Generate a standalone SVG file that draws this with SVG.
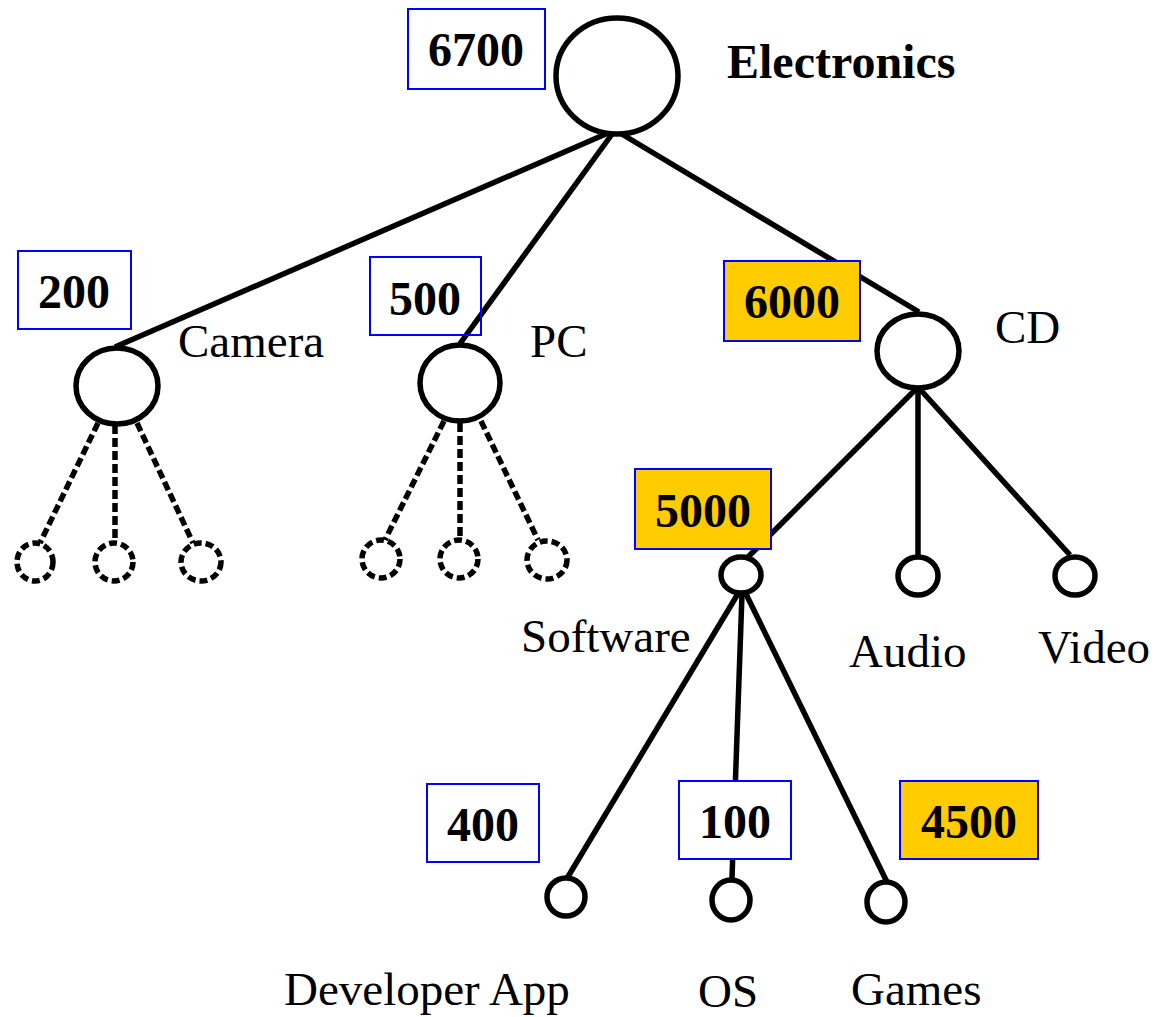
<svg xmlns="http://www.w3.org/2000/svg" width="1158" height="1017" viewBox="0 0 1158 1017">
<style>
.ln{stroke:#000;stroke-width:5.5;fill:none;stroke-linecap:butt}
.dl{stroke:#000;stroke-width:5.5;fill:none;stroke-dasharray:9 4}
.nd{stroke:#000;stroke-width:5.5;fill:#fff}
.dn{stroke:#000;stroke-width:5.5;fill:#fff;stroke-dasharray:8 4}
.bx{stroke:#0000FF;stroke-width:2;fill:#fff}
.bn{stroke:#0000FF;stroke-width:2;fill:none}
.bg{stroke:#0000FF;stroke-width:2;fill:#FFCC00}
.num{font-family:"Liberation Serif","Times New Roman",serif;font-weight:bold;font-size:48px;fill:#000;text-anchor:middle}
.lb{font-family:"Liberation Serif","Times New Roman",serif;font-size:47px;fill:#000}
.lbb{font-family:"Liberation Serif","Times New Roman",serif;font-size:48px;font-weight:bold;fill:#000}
</style>
<rect width="1158" height="1017" fill="#fff"/>
<g id="connectors">
<line class="ln" x1="615" y1="130" x2="115" y2="347"/>
<line class="ln" x1="615" y1="130" x2="459" y2="345"/>
<line class="ln" x1="615" y1="130" x2="919" y2="312"/>
<line class="dl" x1="98" y1="423" x2="40" y2="543"/>
<line class="dl" x1="115" y1="425" x2="115" y2="541"/>
<line class="dl" x1="137" y1="423" x2="193" y2="543"/>
<line class="dl" x1="444" y1="421" x2="385" y2="540"/>
<line class="dl" x1="460" y1="423" x2="460" y2="540"/>
<line class="dl" x1="481" y1="421" x2="538" y2="540"/>
<line class="ln" x1="918" y1="387" x2="743" y2="562"/>
<line class="ln" x1="918" y1="387" x2="918" y2="557"/>
<line class="ln" x1="918" y1="387" x2="1070" y2="555"/>
<line class="ln" x1="739" y1="592" x2="566" y2="880"/>
<line class="ln" x1="742" y1="594" x2="732" y2="878"/>
<line class="ln" x1="745" y1="592" x2="887" y2="882"/>
</g>
<g id="electronics">
<ellipse class="nd" cx="617" cy="76" rx="61" ry="58"/>
<text class="lbb" x="727" y="78">Electronics</text>
<rect class="bx" x="408" y="9" width="137" height="80"/>
<text class="num" x="476" y="66">6700</text>
</g>
<g id="camera">
<ellipse class="nd" cx="117" cy="386" rx="41" ry="38"/>
<text class="lb" x="178" y="357">Camera</text>
<rect class="bx" x="18" y="251" width="113" height="78"/>
<text class="num" x="74" y="308">200</text>
</g>
<g id="camera-children">
<ellipse class="dn" cx="35" cy="562" rx="18" ry="19"/>
<ellipse class="dn" cx="114" cy="562" rx="19" ry="19"/>
<ellipse class="dn" cx="201" cy="562" rx="20" ry="19"/>
</g>
<g id="pc">
<ellipse class="nd" cx="460" cy="383" rx="40" ry="38"/>
<text class="lb" x="530" y="357">PC</text>
<rect class="bn" x="370" y="257" width="111" height="78"/>
<text class="num" x="425" y="315">500</text>
</g>
<g id="pc-children">
<ellipse class="dn" cx="381" cy="559" rx="19" ry="19"/>
<ellipse class="dn" cx="459" cy="559" rx="19" ry="19"/>
<ellipse class="dn" cx="547" cy="560" rx="20" ry="19"/>
</g>
<g id="cd">
<ellipse class="nd" cx="918" cy="351" rx="41" ry="37"/>
<text class="lb" x="995" y="343">CD</text>
<rect class="bg" x="724" y="261" width="136" height="80"/>
<text class="num" x="792" y="318">6000</text>
</g>
<g id="software">
<ellipse class="nd" cx="741" cy="575" rx="20" ry="18"/>
<text class="lb" x="521" y="652">Software</text>
<rect class="bg" x="635" y="469" width="136" height="80"/>
<text class="num" x="703" y="527">5000</text>
</g>
<g id="audio">
<ellipse class="nd" cx="918" cy="576" rx="20" ry="19"/>
<text class="lb" x="849" y="667">Audio</text>
</g>
<g id="video">
<ellipse class="nd" cx="1075" cy="576" rx="20" ry="19"/>
<text class="lb" x="1038" y="663">Video</text>
</g>
<g id="developer-app">
<ellipse class="nd" cx="566" cy="897" rx="19" ry="19"/>
<text class="lb" x="284" y="1005">Developer App</text>
<rect class="bx" x="427" y="784" width="112" height="78"/>
<text class="num" x="483" y="841">400</text>
</g>
<g id="os">
<ellipse class="nd" cx="731" cy="900" rx="19" ry="20"/>
<text class="lb" x="698" y="1007">OS</text>
<rect class="bx" x="679" y="781" width="112" height="78"/>
<text class="num" x="735" y="838">100</text>
</g>
<g id="games">
<ellipse class="nd" cx="886" cy="902" rx="19" ry="20"/>
<text class="lb" x="851" y="1005">Games</text>
<rect class="bg" x="900" y="781" width="138" height="78"/>
<text class="num" x="969" y="838">4500</text>
</g>
</svg>
